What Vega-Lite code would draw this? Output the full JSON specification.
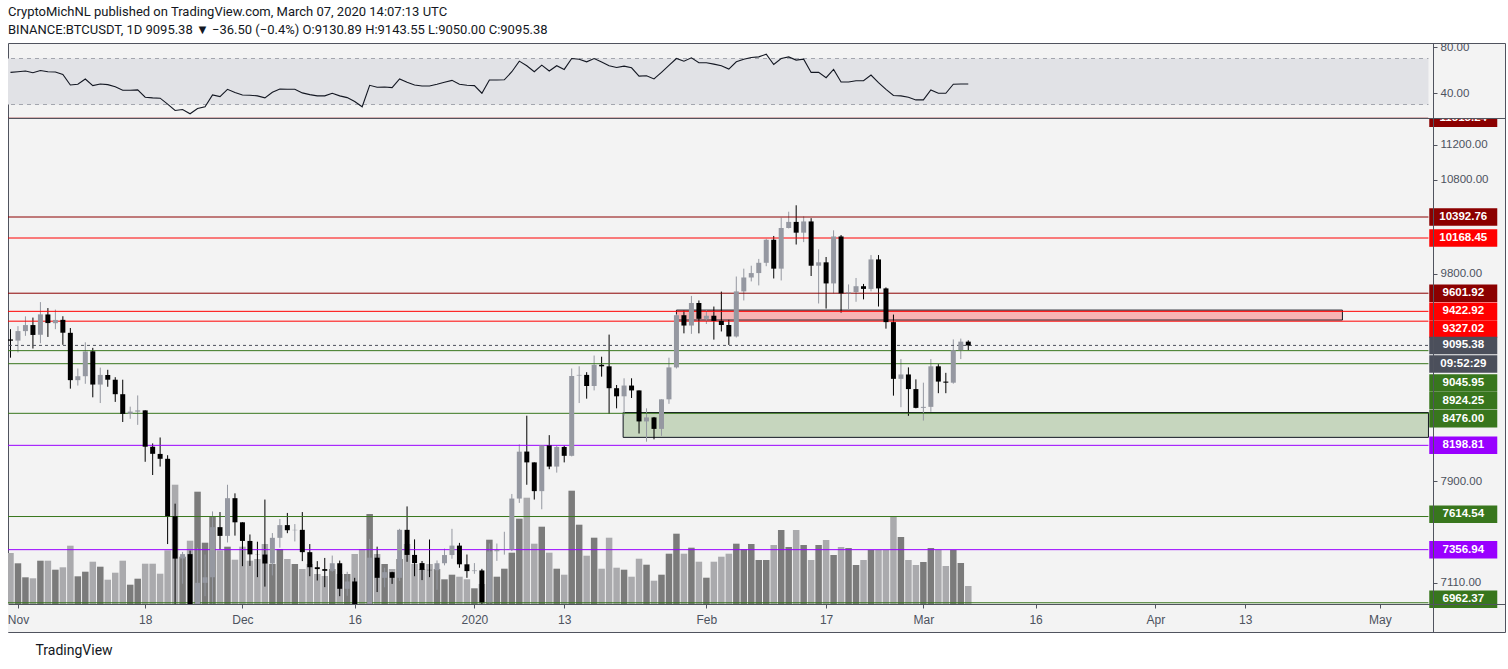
{
"$schema": "https://vega.github.io/schema/vega-lite/v6.json",
"width": 1497, "height": 589,
"autosize": {"type": "none"},
"padding": {"left": 8, "top": 43, "right": 3, "bottom": 37},
"background": "white",
"title": {"text": "CryptoMichNL published on TradingView.com, March 07, 2020 14:07:13 UTC", "subtitle": "BINANCE:BTCUSDT, 1D  9095.38 ▼ −36.50 (−0.4%)  O:9130.89  H:9143.55  L:9050.00  C:9095.38", "anchor": "start", "frame": "group", "orient": "top", "font": "Roboto", "fontSize": 13, "fontWeight": "normal", "color": "#131722", "subtitleFont": "Roboto", "subtitleFontSize": 13, "subtitleColor": "#131722", "subtitlePadding": 5, "offset": 4},
"config": {
  "view": {"fill": "#f3f3f3", "stroke": "#50535e", "strokeWidth": 1},
  "axis": {"labelFont": "Liberation Sans", "labelColor": "#4c525e", "labelFontSize": 11.5, "tickColor": "#50535e", "domainColor": "#50535e", "grid": false, "zindex": 1, "labelFlush": false, "labelOverlap": false, "title": null}
},
"datasets": {
"candles": [
{"date":"2019-10-31","open":9152,"high":9250,"low":8980,"close":9140,"volume":51},
{"date":"2019-11-01","open":9140.9,"high":9279,"low":9030,"close":9231.6,"volume":40.7},
{"date":"2019-11-02","open":9231.4,"high":9373.7,"low":9186.2,"close":9289.5,"volume":26.7},
{"date":"2019-11-03","open":9289.5,"high":9362,"low":9066,"close":9194.7,"volume":25.7},
{"date":"2019-11-04","open":9196.5,"high":9513.7,"low":9115.8,"close":9393.4,"volume":43.3},
{"date":"2019-11-05","open":9392.4,"high":9455,"low":9175.8,"close":9308.7,"volume":43.3},
{"date":"2019-11-06","open":9307.6,"high":9440,"low":9250,"close":9339,"volume":34.3},
{"date":"2019-11-07","open":9340,"high":9375,"low":9101,"close":9216,"volume":36.7},
{"date":"2019-11-08","open":9215,"high":9261,"low":8696,"close":8773,"volume":58.3},
{"date":"2019-11-09","open":8773,"high":8880,"low":8724,"close":8809,"volume":27.7},
{"date":"2019-11-10","open":8809,"high":9125,"low":8740,"close":9039,"volume":32.3},
{"date":"2019-11-11","open":9040,"high":9072,"low":8618,"close":8733,"volume":42.3},
{"date":"2019-11-12","open":8733,"high":8888,"low":8567,"close":8821,"volume":37.3},
{"date":"2019-11-13","open":8820,"high":8868,"low":8713,"close":8777,"volume":24.3},
{"date":"2019-11-14","open":8777,"high":8800,"low":8577,"close":8646,"volume":31.3},
{"date":"2019-11-15","open":8646,"high":8777,"low":8400,"close":8471,"volume":43.3},
{"date":"2019-11-16","open":8472,"high":8535,"low":8428,"close":8491,"volume":19.3},
{"date":"2019-11-17","open":8491,"high":8635,"low":8375,"close":8502,"volume":25.3},
{"date":"2019-11-18","open":8502,"high":8503,"low":8060,"close":8187,"volume":40.3},
{"date":"2019-11-19","open":8187,"high":8215,"low":7950,"close":8127,"volume":40.3},
{"date":"2019-11-20","open":8126,"high":8266,"low":8020,"close":8085,"volume":30.3},
{"date":"2019-11-21","open":8085,"high":8115,"low":7400,"close":7617,"volume":53.7},
{"date":"2019-11-22","open":7617,"high":7717,"low":6790,"close":7289,"volume":119.3},
{"date":"2019-11-23","open":7290,"high":7340,"low":7101,"close":7323,"volume":47.3},
{"date":"2019-11-24","open":7323,"high":7350,"low":6861,"close":6900,"volume":63.3},
{"date":"2019-11-25","open":6900,"high":7371,"low":6515,"close":7108,"volume":112.3},
{"date":"2019-11-26","open":7108,"high":7320,"low":7010,"close":7149,"volume":61.3},
{"date":"2019-11-27","open":7149,"high":7655,"low":6850,"close":7531,"volume":87.3},
{"date":"2019-11-28","open":7531,"high":7650,"low":7358,"close":7463,"volume":53.7},
{"date":"2019-11-29","open":7463,"high":7870,"low":7412,"close":7761,"volume":57.3},
{"date":"2019-11-30","open":7761,"high":7800,"low":7465,"close":7569,"volume":44.3},
{"date":"2019-12-01","open":7569,"high":7569,"low":7232,"close":7424,"volume":57.3},
{"date":"2019-12-02","open":7424,"high":7474,"low":7234,"close":7321,"volume":43.3},
{"date":"2019-12-03","open":7321,"high":7418,"low":7150,"close":7320,"volume":45},
{"date":"2019-12-04","open":7320,"high":7750,"low":7080,"close":7252,"volume":60},
{"date":"2019-12-05","open":7252,"high":7485,"low":7163,"close":7448,"volume":40},
{"date":"2019-12-06","open":7448,"high":7595,"low":7372,"close":7547,"volume":55},
{"date":"2019-12-07","open":7547,"high":7643,"low":7484,"close":7507,"volume":45},
{"date":"2019-12-08","open":7507,"high":7555,"low":7420,"close":7510,"volume":40},
{"date":"2019-12-09","open":7510,"high":7650,"low":7270,"close":7338,"volume":35},
{"date":"2019-12-10","open":7338,"high":7400,"low":7157,"close":7224,"volume":40},
{"date":"2019-12-11","open":7224,"high":7270,"low":7125,"close":7210,"volume":30},
{"date":"2019-12-12","open":7210,"high":7294,"low":7076,"close":7197,"volume":28},
{"date":"2019-12-13","open":7197,"high":7312,"low":7190,"close":7254,"volume":35},
{"date":"2019-12-14","open":7254,"high":7274,"low":7010,"close":7064,"volume":30},
{"date":"2019-12-15","open":7064,"high":7190,"low":7013,"close":7118,"volume":30},
{"date":"2019-12-16","open":7118,"high":7145,"low":6855,"close":6891,"volume":50},
{"date":"2019-12-17","open":6891,"high":6940,"low":6560,"close":6617,"volume":55},
{"date":"2019-12-18","open":6617,"high":7440,"low":6435,"close":7296,"volume":90},
{"date":"2019-12-19","open":7296,"high":7380,"low":7040,"close":7145,"volume":50},
{"date":"2019-12-20","open":7145,"high":7220,"low":7075,"close":7187,"volume":40},
{"date":"2019-12-21","open":7187,"high":7190,"low":7100,"close":7145,"volume":35},
{"date":"2019-12-22","open":7145,"high":7518,"low":7122,"close":7510,"volume":45},
{"date":"2019-12-23","open":7510,"high":7695,"low":7265,"close":7317,"volume":60},
{"date":"2019-12-24","open":7317,"high":7436,"low":7157,"close":7255,"volume":40},
{"date":"2019-12-25","open":7255,"high":7271,"low":7128,"close":7204,"volume":35},
{"date":"2019-12-26","open":7204,"high":7435,"low":7150,"close":7202,"volume":40},
{"date":"2019-12-27","open":7202,"high":7275,"low":7057,"close":7254,"volume":35},
{"date":"2019-12-28","open":7254,"high":7365,"low":7238,"close":7316,"volume":24.7},
{"date":"2019-12-29","open":7316,"high":7518,"low":7288,"close":7388,"volume":29.3},
{"date":"2019-12-30","open":7388,"high":7409,"low":7220,"close":7246,"volume":27.3},
{"date":"2019-12-31","open":7246,"high":7320,"low":7145,"close":7195,"volume":24.7},
{"date":"2020-01-01","open":7195,"high":7255,"low":7175,"close":7200,"volume":15.7},
{"date":"2020-01-02","open":7200,"high":7212,"low":6924,"close":6965,"volume":20},
{"date":"2020-01-03","open":6965,"high":7405,"low":6871,"close":7344,"volume":64.3},
{"date":"2020-01-04","open":7345,"high":7404,"low":7272,"close":7354,"volume":27.3},
{"date":"2020-01-05","open":7357,"high":7495,"low":7319,"close":7359,"volume":35.3},
{"date":"2020-01-06","open":7358,"high":7795,"low":7346,"close":7758,"volume":51.3},
{"date":"2020-01-07","open":7758,"high":8207,"low":7723,"close":8145,"volume":85.3},
{"date":"2020-01-08","open":8146,"high":8455,"low":7870,"close":8055,"volume":106.3},
{"date":"2020-01-09","open":8055,"high":8055,"low":7750,"close":7818,"volume":60.3},
{"date":"2020-01-10","open":7818,"high":8200,"low":7672,"close":8198,"volume":77.3},
{"date":"2020-01-11","open":8198,"high":8286,"low":7998,"close":8020,"volume":51.3},
{"date":"2020-01-12","open":8020,"high":8197,"low":7970,"close":8185,"volume":35.3},
{"date":"2020-01-13","open":8185,"high":8196,"low":8055,"close":8110,"volume":29.3},
{"date":"2020-01-14","open":8110,"high":8880,"low":8105,"close":8811,"volume":113.3},
{"date":"2020-01-15","open":8815,"high":8900,"low":8567,"close":8821,"volume":79.3},
{"date":"2020-01-16","open":8821,"high":8846,"low":8606,"close":8720,"volume":48.3},
{"date":"2020-01-17","open":8720,"high":9000,"low":8680,"close":8914,"volume":66.3},
{"date":"2020-01-18","open":8914,"high":8989,"low":8805,"close":8900,"volume":35.3},
{"date":"2020-01-19","open":8900,"high":9198,"low":8470,"close":8700,"volume":66.3},
{"date":"2020-01-20","open":8700,"high":8729,"low":8520,"close":8627,"volume":36.3},
{"date":"2020-01-21","open":8627,"high":8790,"low":8456,"close":8724,"volume":34.3},
{"date":"2020-01-22","open":8724,"high":8790,"low":8612,"close":8680,"volume":27.3},
{"date":"2020-01-23","open":8680,"high":8680,"low":8300,"close":8405,"volume":45.3},
{"date":"2020-01-24","open":8405,"high":8520,"low":8230,"close":8440,"volume":39.3},
{"date":"2020-01-25","open":8440,"high":8444,"low":8250,"close":8340,"volume":23.3},
{"date":"2020-01-26","open":8340,"high":8600,"low":8280,"close":8600,"volume":29.3},
{"date":"2020-01-27","open":8600,"high":8980,"low":8560,"close":8890,"volume":50.3},
{"date":"2020-01-28","open":8890,"high":9395,"low":8880,"close":9385,"volume":70.3},
{"date":"2020-01-29","open":9385,"high":9430,"low":9210,"close":9285,"volume":50.3},
{"date":"2020-01-30","open":9285,"high":9575,"low":9205,"close":9505,"volume":56.3},
{"date":"2020-01-31","open":9505,"high":9530,"low":9210,"close":9350,"volume":42.3},
{"date":"2020-02-01","open":9350,"high":9440,"low":9300,"close":9380,"volume":26.3},
{"date":"2020-02-02","open":9380,"high":9470,"low":9150,"close":9330,"volume":42.3},
{"date":"2020-02-03","open":9330,"high":9618,"low":9228,"close":9290,"volume":47.3},
{"date":"2020-02-04","open":9290,"high":9340,"low":9100,"close":9180,"volume":50.3},
{"date":"2020-02-05","open":9180,"high":9770,"low":9170,"close":9620,"volume":60.3},
{"date":"2020-02-06","open":9620,"high":9850,"low":9530,"close":9760,"volume":55},
{"date":"2020-02-07","open":9760,"high":9880,"low":9720,"close":9805,"volume":60},
{"date":"2020-02-08","open":9805,"high":9950,"low":9680,"close":9910,"volume":44},
{"date":"2020-02-09","open":9910,"high":10160,"low":9875,"close":10150,"volume":44},
{"date":"2020-02-10","open":10150,"high":10190,"low":9750,"close":9850,"volume":59},
{"date":"2020-02-11","open":9850,"high":10385,"low":9730,"close":10275,"volume":74},
{"date":"2020-02-12","open":10275,"high":10450,"low":10270,"close":10340,"volume":57},
{"date":"2020-02-13","open":10340,"high":10520,"low":10100,"close":10225,"volume":74},
{"date":"2020-02-14","open":10225,"high":10400,"low":10125,"close":10345,"volume":59},
{"date":"2020-02-15","open":10345,"high":10380,"low":9775,"close":9880,"volume":44},
{"date":"2020-02-16","open":9880,"high":10050,"low":9500,"close":9915,"volume":59},
{"date":"2020-02-17","open":9915,"high":9970,"low":9450,"close":9700,"volume":64},
{"date":"2020-02-18","open":9700,"high":10250,"low":9600,"close":10185,"volume":49},
{"date":"2020-02-19","open":10185,"high":10200,"low":9410,"close":9600,"volume":57},
{"date":"2020-02-20","open":9600,"high":9690,"low":9440,"close":9612,"volume":56},
{"date":"2020-02-21","open":9612,"high":9755,"low":9517,"close":9672,"volume":39},
{"date":"2020-02-22","open":9672,"high":9695,"low":9541,"close":9645,"volume":44},
{"date":"2020-02-23","open":9645,"high":9990,"low":9620,"close":9945,"volume":54},
{"date":"2020-02-24","open":9945,"high":9990,"low":9470,"close":9650,"volume":54},
{"date":"2020-02-25","open":9650,"high":9660,"low":9255,"close":9318,"volume":54},
{"date":"2020-02-26","open":9318,"high":9391,"low":8633,"close":8785,"volume":87},
{"date":"2020-02-27","open":8785,"high":8967,"low":8530,"close":8825,"volume":67},
{"date":"2020-02-28","open":8825,"high":8890,"low":8454,"close":8692,"volume":44},
{"date":"2020-02-29","open":8692,"high":8780,"low":8520,"close":8524,"volume":39},
{"date":"2020-03-01","open":8524,"high":8750,"low":8412,"close":8533,"volume":42},
{"date":"2020-03-02","open":8533,"high":8967,"low":8490,"close":8900,"volume":56},
{"date":"2020-03-03","open":8900,"high":8920,"low":8655,"close":8760,"volume":54},
{"date":"2020-03-04","open":8760,"high":8840,"low":8655,"close":8750,"volume":38},
{"date":"2020-03-05","open":8750,"high":9152,"low":8741,"close":9050,"volume":54},
{"date":"2020-03-06","open":9050,"high":9160,"low":8967,"close":9130.9,"volume":41},
{"date":"2020-03-07","open":9130.89,"high":9143.55,"low":9050,"close":9095.38,"volume":18}
],
"rsi": [
{"date":"2019-10-31","rsi":57.9},{"date":"2019-11-01","rsi":58.5},{"date":"2019-11-02","rsi":59.1},{"date":"2019-11-03","rsi":57.6},{"date":"2019-11-04","rsi":59.6},{"date":"2019-11-05","rsi":58.5},{"date":"2019-11-06","rsi":58.2},{"date":"2019-11-07","rsi":56.2},{"date":"2019-11-08","rsi":47.0},{"date":"2019-11-09","rsi":47.6},{"date":"2019-11-10","rsi":52.2},{"date":"2019-11-11","rsi":46.4},{"date":"2019-11-12","rsi":47.8},{"date":"2019-11-13","rsi":47.3},{"date":"2019-11-14","rsi":45.5},{"date":"2019-11-15","rsi":42.4},{"date":"2019-11-16","rsi":42.4},{"date":"2019-11-17","rsi":42.7},{"date":"2019-11-18","rsi":36.3},{"date":"2019-11-19","rsi":35.8},{"date":"2019-11-20","rsi":35.5},{"date":"2019-11-21","rsi":30.3},{"date":"2019-11-22","rsi":24.8},{"date":"2019-11-23","rsi":25.7},{"date":"2019-11-24","rsi":21.9},{"date":"2019-11-25","rsi":26.5},{"date":"2019-11-26","rsi":28.0},{"date":"2019-11-27","rsi":38.3},{"date":"2019-11-28","rsi":36.9},{"date":"2019-11-29","rsi":43.2},{"date":"2019-11-30","rsi":40.4},
{"date":"2019-12-01","rsi":38.3},{"date":"2019-12-02","rsi":38.1},{"date":"2019-12-03","rsi":37.5},{"date":"2019-12-04","rsi":35.8},{"date":"2019-12-05","rsi":40.6},{"date":"2019-12-06","rsi":43.5},{"date":"2019-12-07","rsi":43.2},{"date":"2019-12-08","rsi":43.2},{"date":"2019-12-09","rsi":40.1},{"date":"2019-12-10","rsi":38.6},{"date":"2019-12-11","rsi":37.5},{"date":"2019-12-12","rsi":37.5},{"date":"2019-12-13","rsi":39.8},{"date":"2019-12-14","rsi":37.5},{"date":"2019-12-15","rsi":36.0},{"date":"2019-12-16","rsi":32.6},{"date":"2019-12-17","rsi":28.0},{"date":"2019-12-18","rsi":46.7},{"date":"2019-12-19","rsi":45.0},{"date":"2019-12-20","rsi":45.2},{"date":"2019-12-21","rsi":44.7},{"date":"2019-12-22","rsi":52.2},{"date":"2019-12-23","rsi":49.3},{"date":"2019-12-24","rsi":47.0},{"date":"2019-12-25","rsi":46.1},{"date":"2019-12-26","rsi":46.1},{"date":"2019-12-27","rsi":47.6},{"date":"2019-12-28","rsi":49.3},{"date":"2019-12-29","rsi":51.0},{"date":"2019-12-30","rsi":47.6},{"date":"2019-12-31","rsi":46.7},
{"date":"2020-01-01","rsi":46.4},{"date":"2020-01-02","rsi":39.8},{"date":"2020-01-03","rsi":51.3},{"date":"2020-01-04","rsi":51.3},{"date":"2020-01-05","rsi":51.5},{"date":"2020-01-06","rsi":58.5},{"date":"2020-01-07","rsi":67.7},{"date":"2020-01-08","rsi":63.7},{"date":"2020-01-09","rsi":58.5},{"date":"2020-01-10","rsi":64.2},{"date":"2020-01-11","rsi":59.1},{"date":"2020-01-12","rsi":63.7},{"date":"2020-01-13","rsi":60.5},{"date":"2020-01-14","rsi":70.0},{"date":"2020-01-15","rsi":69.4},{"date":"2020-01-16","rsi":67.1},{"date":"2020-01-17","rsi":70.0},{"date":"2020-01-18","rsi":67.0},{"date":"2020-01-19","rsi":63.7},{"date":"2020-01-20","rsi":62.2},{"date":"2020-01-21","rsi":63.4},{"date":"2020-01-22","rsi":61.9},{"date":"2020-01-23","rsi":54.7},{"date":"2020-01-24","rsi":55.0},{"date":"2020-01-25","rsi":52.2},{"date":"2020-01-26","rsi":58.0},{"date":"2020-01-27","rsi":64.0},{"date":"2020-01-28","rsi":70.0},{"date":"2020-01-29","rsi":67.7},{"date":"2020-01-30","rsi":70.6},{"date":"2020-01-31","rsi":66.3},
{"date":"2020-02-01","rsi":66.3},{"date":"2020-02-02","rsi":65.1},{"date":"2020-02-03","rsi":63.7},{"date":"2020-02-04","rsi":60.8},{"date":"2020-02-05","rsi":67.1},{"date":"2020-02-06","rsi":69.4},{"date":"2020-02-07","rsi":70.9},{"date":"2020-02-08","rsi":71.4},{"date":"2020-02-09","rsi":73.7},{"date":"2020-02-10","rsi":64.8},{"date":"2020-02-11","rsi":70.0},{"date":"2020-02-12","rsi":71.4},{"date":"2020-02-13","rsi":68.6},{"date":"2020-02-14","rsi":69.4},{"date":"2020-02-15","rsi":57.9},{"date":"2020-02-16","rsi":57.9},{"date":"2020-02-17","rsi":53.3},{"date":"2020-02-18","rsi":60.5},{"date":"2020-02-19","rsi":49.6},{"date":"2020-02-20","rsi":49.6},{"date":"2020-02-21","rsi":50.7},{"date":"2020-02-22","rsi":50.7},{"date":"2020-02-23","rsi":55.6},{"date":"2020-02-24","rsi":49.0},{"date":"2020-02-25","rsi":43.2},{"date":"2020-02-26","rsi":37.8},{"date":"2020-02-27","rsi":37.5},{"date":"2020-02-28","rsi":36.3},{"date":"2020-02-29","rsi":34.0},
{"date":"2020-03-01","rsi":34.0},{"date":"2020-03-02","rsi":42.7},{"date":"2020-03-03","rsi":39.8},{"date":"2020-03-04","rsi":39.8},{"date":"2020-03-05","rsi":47.6},{"date":"2020-03-06","rsi":47.8},{"date":"2020-03-07","rsi":47.8}
],
"levels": [
{"price":11515.24,"kind":"darkred"},{"price":10392.76,"kind":"darkred"},{"price":10168.45,"kind":"red"},{"price":9601.92,"kind":"darkred"},{"price":9422.92,"kind":"red"},{"price":9327.02,"kind":"red"},{"price":9095.38,"kind":"slate"},{"price":9045.95,"kind":"green"},{"price":8924.25,"kind":"green"},{"price":8476.0,"kind":"green"},{"price":8198.81,"kind":"purple"},{"price":7614.54,"kind":"green"},{"price":7356.94,"kind":"purple"},{"price":6962.37,"kind":"green"}
],
"tags": [
{"at":11515.24,"label":"11515.24","kind":"darkred"},{"at":10392.76,"label":"10392.76","kind":"darkred"},{"at":10168.45,"label":"10168.45","kind":"red"},{"at":9601.92,"label":"9601.92","kind":"darkred"},{"at":9422.92,"label":"9422.92","kind":"red"},{"at":9251.7,"label":"9327.02","kind":"red"},{"at":9095.38,"label":"9095.38","kind":"slate"},{"at":8921.5,"label":"09:52:29","kind":"slate"},{"at":8747.2,"label":"9045.95","kind":"green"},{"at":8588.3,"label":"8924.25","kind":"green"},{"at":8428.6,"label":"8476.00","kind":"green"},{"at":8198.81,"label":"8198.81","kind":"purple"},{"at":7631.8,"label":"7614.54","kind":"green"},{"at":7356.94,"label":"7356.94","kind":"purple"},{"at":6987.4,"label":"6962.37","kind":"green"}
],
"boxes": [
{"start":"2020-01-28T00:00:00Z","end":"2020-04-26T00:00:00Z","top":9435,"bottom":9338,"kind":"supply"},
{"start":"2020-01-20T21:00:00Z","end":"2020-05-07T12:00:00Z","top":8483,"bottom":8267,"kind":"demand"}
]
},
"resolve": {"scale": {"y": "independent"}, "axis": {"y": "independent"}},
"layer": [
{
  "data": {"name": "candles"},
  "mark": {"type": "bar", "width": 6.5, "clip": true},
  "encoding": {
    "x": {"field": "date", "type": "temporal",
      "scale": {"type": "utc", "domain": [{"year":2019,"month":10,"date":31,"hours":8,"minutes":4,"utc":true},{"year":2020,"month":5,"date":17,"hours":1,"minutes":26,"utc":true}]},
      "axis": {"orient": "bottom", "offset": -28, "zindex": 2, "title": "TradingView", "titleX": 27, "titleY": 46, "titleAlign": "left", "titleBaseline": "middle", "titleFont": "Roboto", "titleFontSize": 14, "titleFontWeight": "normal", "titleColor": "#131722", "tickSize": 4, "labelPadding": 6, "labelFontSize": 12, "domain": true,
        "values": [{"year":2019,"month":11,"date":1,"utc":true},{"year":2019,"month":11,"date":18,"utc":true},{"year":2019,"month":12,"date":1,"utc":true},{"year":2019,"month":12,"date":16,"utc":true},{"year":2020,"month":1,"date":1,"utc":true},{"year":2020,"month":1,"date":13,"utc":true},{"year":2020,"month":2,"date":1,"utc":true},{"year":2020,"month":2,"date":17,"utc":true},{"year":2020,"month":3,"date":1,"utc":true},{"year":2020,"month":3,"date":16,"utc":true},{"year":2020,"month":4,"date":1,"utc":true},{"year":2020,"month":4,"date":13,"utc":true},{"year":2020,"month":5,"date":1,"utc":true}],
        "labelExpr": "utcdate(datum.value) == 1 ? (utcmonth(datum.value) == 0 ? utcFormat(datum.value, '%Y') : utcFormat(datum.value, '%b')) : utcFormat(datum.value, '%-d')"}},
    "y": {"field": "volume", "type": "quantitative", "scale": {"domain": [-28, 561], "zero": false, "nice": false}, "axis": null},
    "color": {"condition": {"test": "datum.close >= datum.open", "value": "#7b7b7b"}, "value": "#aaaaad"}
  }
},
{
  "layer": [
    {
      "data": {"name": "boxes"},
      "mark": {"type": "rect", "stroke": "#131722", "strokeWidth": 1, "clip": true},
      "encoding": {
        "x": {"field": "start", "type": "temporal"},
        "x2": {"field": "end"},
        "y": {"field": "top", "type": "quantitative", "scale": {"type": "log", "domain": [6754.1, 12451], "nice": false},
          "axis": {"orient": "right", "offset": -72, "zindex": 2, "title": null, "values": [7110, 7900, 9800, 10800, 11200], "format": ".2f", "tickSize": 4, "labelPadding": 3, "domain": true}},
        "y2": {"field": "bottom"},
        "fill": {"condition": {"test": "datum.kind == 'supply'", "value": "#f7b5b5"}, "value": "#c6d6be"}
      }
    },
    {
      "data": {"name": "candles"},
      "mark": {"type": "rule", "strokeWidth": 1, "clip": true},
      "encoding": {
        "x": {"field": "date", "type": "temporal"},
        "y": {"field": "low", "type": "quantitative"},
        "y2": {"field": "high"},
        "color": {"condition": {"test": "datum.close >= datum.open", "value": "#9598a1"}, "value": "#000000"}
      }
    },
    {
      "data": {"name": "levels"},
      "mark": {"type": "rule", "strokeWidth": 1, "clip": true},
      "encoding": {
        "x": {"datum": {"year":2019,"month":10,"date":30,"utc":true}, "type": "temporal"},
        "x2": {"datum": {"year":2020,"month":5,"date":7,"hours":12,"utc":true}},
        "y": {"field": "price", "type": "quantitative"},
        "color": {"field": "kind", "type": "nominal", "scale": {"domain": ["darkred","red","green","purple","slate"], "range": ["#8b0000","#ff0000","#38761d","#9900ff","#4b4f5b"]}, "legend": null},
        "strokeDash": {"condition": {"test": "datum.kind == 'slate'", "value": [3, 3]}, "value": [1, 0]}
      }
    },
    {
      "data": {"name": "candles"},
      "mark": {"type": "bar", "width": 5, "clip": true},
      "encoding": {
        "x": {"field": "date", "type": "temporal"},
        "y": {"field": "open", "type": "quantitative"},
        "y2": {"field": "close"},
        "color": {"condition": {"test": "datum.close >= datum.open", "value": "#9598a1"}, "value": "#000000"}
      }
    },
    {
      "data": {"values": [{}]},
      "mark": {"type": "rect", "fill": "#f3f3f3", "clip": true},
      "encoding": {
        "x": {"datum": {"year":2019,"month":10,"date":30,"utc":true}, "type": "temporal"},
        "x2": {"datum": {"year":2020,"month":5,"date":7,"hours":12,"utc":true}},
        "y": {"datum": 6953.4, "type": "quantitative"},
        "y2": {"datum": 6754.1}
      }
    },
    {
      "data": {"name": "tags"},
      "mark": {"type": "tick", "orient": "horizontal", "size": 68, "thickness": 17.5, "opacity": 1},
      "encoding": {
        "x": {"datum": {"year":2020,"month":5,"date":12,"hours":3,"minutes":36,"utc":true}, "type": "temporal"},
        "y": {"field": "at", "type": "quantitative"},
        "color": {"field": "kind", "type": "nominal", "legend": null}
      }
    },
    {
      "data": {"name": "tags"},
      "mark": {"type": "text", "font": "Liberation Sans", "fontSize": 11.5, "fontWeight": "bold", "color": "#ffffff", "align": "center", "baseline": "middle"},
      "encoding": {
        "x": {"datum": {"year":2020,"month":5,"date":12,"hours":3,"minutes":36,"utc":true}, "type": "temporal"},
        "y": {"field": "at", "type": "quantitative"},
        "text": {"field": "label"}
      }
    }
  ]
},
{
  "layer": [
    {
      "data": {"values": [{}]},
      "mark": {"type": "rect", "fill": "#f3f3f3", "clip": true},
      "encoding": {
        "x": {"datum": {"year":2020,"month":5,"date":7,"hours":12,"utc":true}, "type": "temporal"},
        "x2": {"datum": {"year":2020,"month":5,"date":16,"hours":19,"utc":true}},
        "y": {"datum": 17.83, "type": "quantitative", "scale": {"domain": [-428.7, 83.48], "zero": false, "nice": false},
          "axis": {"orient": "right", "offset": -72, "zindex": 2, "title": null, "values": [40, 80], "format": ".2f", "tickSize": 4, "labelPadding": 3, "domain": false}},
        "y2": {"datum": 30}
      }
    },
    {
      "data": {"values": [{}]},
      "mark": {"type": "rect", "fill": "#e1e2e6", "clip": true},
      "encoding": {
        "x": {"datum": {"year":2019,"month":10,"date":30,"utc":true}, "type": "temporal"},
        "x2": {"datum": {"year":2020,"month":5,"date":7,"hours":12,"utc":true}},
        "y": {"datum": 30, "type": "quantitative"},
        "y2": {"datum": 70}
      }
    },
    {
      "data": {"values": [{"lv": 30}, {"lv": 70}]},
      "mark": {"type": "rule", "stroke": "#a3a6ae", "strokeWidth": 1, "strokeDash": [4, 4], "clip": true},
      "encoding": {
        "x": {"datum": {"year":2019,"month":10,"date":30,"utc":true}, "type": "temporal"},
        "x2": {"datum": {"year":2020,"month":5,"date":7,"hours":12,"utc":true}},
        "y": {"field": "lv", "type": "quantitative"}
      }
    },
    {
      "data": {"values": [{}]},
      "mark": {"type": "rule", "stroke": "#50535e", "strokeWidth": 1, "clip": true},
      "encoding": {
        "x": {"datum": {"year":2019,"month":10,"date":30,"utc":true}, "type": "temporal"},
        "x2": {"datum": {"year":2020,"month":5,"date":31,"utc":true}},
        "y": {"datum": 17.83, "type": "quantitative"}
      }
    },
    {
      "data": {"name": "rsi"},
      "mark": {"type": "line", "stroke": "#131722", "strokeWidth": 1.1, "clip": true},
      "encoding": {
        "x": {"field": "date", "type": "temporal"},
        "y": {"field": "rsi", "type": "quantitative"}
      }
    }
  ]
}
]
}
